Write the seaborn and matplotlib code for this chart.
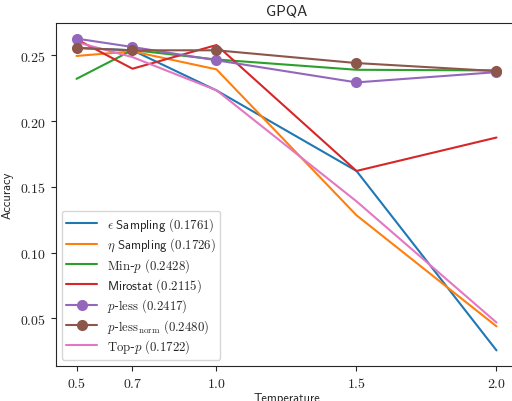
import matplotlib
matplotlib.use("Agg")
import matplotlib.pyplot as plt
import seaborn as sns
import pandas as pd
from matplotlib.ticker import FormatStrFormatter

sns.set_style("ticks")
plt.rcParams["mathtext.fontset"] = "cm"
plt.rcParams["font.family"] = ["DejaVu Sans"]
plt.rcParams["axes.formatter.use_mathtext"] = True

temperatures = [0.5, 0.7, 1.0, 1.5, 2.0]
eps_sampling = [0.2556, 0.2538, 0.2233, 0.1621, 0.0257]
eta_sampling = [0.2495, 0.2530, 0.2393, 0.1284, 0.0440]
min_p = [0.2321, 0.2540, 0.2468, 0.2390, 0.2385]
mirostat = [0.2622, 0.2398, 0.2578, 0.1621, 0.1875]
p_less = [0.2627, 0.2563, 0.2462, 0.2294, 0.2372]
p_less_norm = [0.2556, 0.2538, 0.2538, 0.2441, 0.2380]
top_p = [0.2600, 0.2486, 0.2234, 0.1390, 0.0469]

labels = [
    r"$\epsilon\ \mathsf{Sampling}\ (0.1761)$",
    r"$\eta\ \mathsf{Sampling}\ (0.1726)$",
    r"$\mathrm{Min}$-$p\ (0.2428)$",
    r"$\mathsf{Mirostat}\ (0.2115)$",
    r"$p$-$\mathrm{less}\ (0.2417)$",
    r"$p$-$\mathrm{less}_{\mathrm{norm}}\ (\mathbf{0.2480})$",
    r"$\mathrm{Top}$-$p\ (0.1722)$",
]
series = [eps_sampling, eta_sampling, min_p, mirostat, p_less, p_less_norm, top_p]
with_markers = [False, False, False, False, True, True, False]
colors = sns.color_palette("tab10")

fig = plt.figure(figsize=(5.12, 4.02), dpi=100)
ax = fig.add_axes([55.5 / 512, 35 / 402, 462 / 512, 343 / 402])

for i, (lab, vals, mk) in enumerate(zip(labels, series, with_markers)):
    df = pd.DataFrame({"Temperature": temperatures, "Accuracy": vals})
    sns.lineplot(data=df, x="Temperature", y="Accuracy", ax=ax, color=colors[i],
                 label=lab, marker="o" if mk else None, markersize=8 if mk else 0,
                 markeredgewidth=0, linewidth=1.5, zorder=3 if mk else 2)

ax.set_xticks(temperatures)
ax.xaxis.set_major_formatter(FormatStrFormatter(r"$%.1f$"))
ax.set_yticks([0.05, 0.10, 0.15, 0.20, 0.25])
ax.yaxis.set_major_formatter(FormatStrFormatter(r"$%.2f$"))
ax.tick_params(labelsize=10)
ax.set_xlabel("Temperature", fontsize=9, family="cmss10", labelpad=2)
ax.set_ylabel("Accuracy", fontsize=9, family="cmss10")
ax.set_title("GPQA", fontsize=11, family="cmss10")
ax.legend(loc="lower left", fontsize=9.2, frameon=True, labelspacing=0.2,
          handlelength=2.4, borderaxespad=0.5, borderpad=0.35)

fig.savefig("out.png", dpi=100)
